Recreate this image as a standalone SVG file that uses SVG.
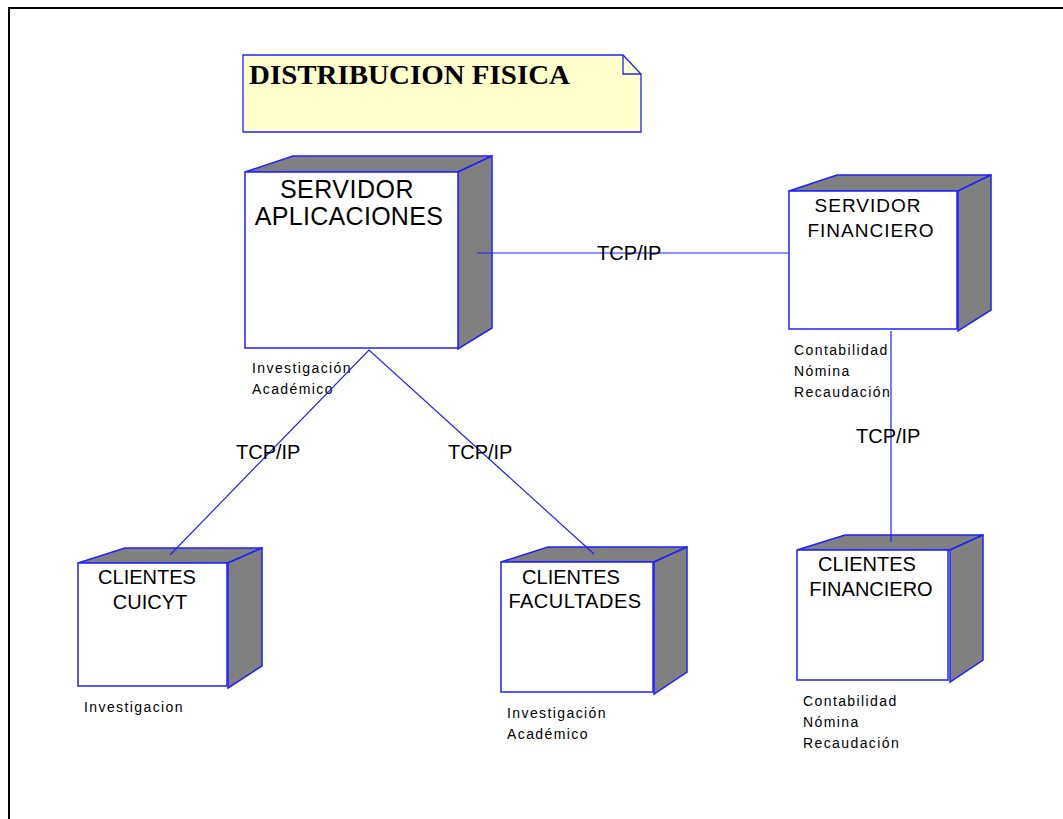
<svg xmlns="http://www.w3.org/2000/svg" width="1063" height="819" viewBox="0 0 1063 819">
<style>
.front{fill:#ffffff;stroke:#2020ff;stroke-width:1.5}
.side{fill:#808080;stroke:#2020ff;stroke-width:1.5;stroke-linejoin:miter}
.conn{stroke:#2020ff;stroke-width:1.2;fill:none}
.name{font-family:"Liberation Sans",Arial,sans-serif;fill:#000;text-anchor:middle}
.lbl{font-family:"Liberation Sans",Arial,sans-serif;font-size:14px;letter-spacing:1.4px;fill:#000}
.tcp{font-family:"Liberation Sans",Arial,sans-serif;font-size:20px;fill:#000}
</style>
<rect width="1063" height="819" fill="#ffffff"/>
<path d="M9,819 V8 H1063" fill="none" stroke="#000" stroke-width="2"/>

<g id="note">
<path d="M243,55 H623 L641,74 V132 H243 Z" fill="#ffffcc" stroke="#2020ff" stroke-width="1.3"/>
<path d="M623,55 V74 H641" fill="none" stroke="#2020ff" stroke-width="1.3"/>
<text x="249" y="84" font-family="'Liberation Serif','Times New Roman',serif" font-weight="bold" font-size="27" textLength="321" lengthAdjust="spacingAndGlyphs">DISTRIBUCION FISICA</text>
</g>

<g id="servidor-aplicaciones">
<path class="side" d="M245,172 L293,156 H492 L458,172 Z"/>
<path class="side" d="M458,172 L492,156 V328 L458,349 Z"/>
<rect class="front" x="245" y="172" width="213" height="176"/>
<text class="name" font-size="25" x="347" y="198" letter-spacing="0.5">SERVIDOR</text>
<text class="name" font-size="25" x="349" y="225" letter-spacing="0.3">APLICACIONES</text>
<text class="lbl" x="252" y="373">Investigación</text>
<text class="lbl" x="252" y="394">Académico</text>
</g>

<g id="servidor-financiero">
<path class="side" d="M789,191 L837,175 H991 L958,191 Z"/>
<path class="side" d="M958,191 L991,175 V310 L958,331 Z"/>
<rect class="front" x="789" y="191" width="168" height="138"/>
<text class="name" font-size="19" x="868" y="212" letter-spacing="1">SERVIDOR</text>
<text class="name" font-size="19" x="871" y="237" letter-spacing="1">FINANCIERO</text>
<text class="lbl" x="794" y="355">Contabilidad</text>
<text class="lbl" x="794" y="376">Nómina</text>
<text class="lbl" x="794" y="397">Recaudación</text>
</g>

<g id="clientes-cuicyt">
<path class="side" d="M78,563 L125,548 H262 L228,563 Z"/>
<path class="side" d="M228,563 L262,548 V666 L228,688 Z"/>
<rect class="front" x="78" y="563" width="149" height="123"/>
<text class="name" font-size="20" x="147" y="584">CLIENTES</text>
<text class="name" font-size="20" x="150" y="609">CUICYT</text>
<text class="lbl" x="84" y="712">Investigacion</text>
</g>

<g id="clientes-facultades">
<path class="side" d="M501,562 L548,547 H687 L654,562 Z"/>
<path class="side" d="M654,562 L687,547 V672 L654,694 Z"/>
<rect class="front" x="501" y="562" width="152" height="130"/>
<text class="name" font-size="20" x="571" y="584">CLIENTES</text>
<text class="name" font-size="20" x="575" y="608" letter-spacing="0.5">FACULTADES</text>
<text class="lbl" x="507" y="718">Investigación</text>
<text class="lbl" x="507" y="739">Académico</text>
</g>

<g id="clientes-financiero">
<path class="side" d="M797,550 L845,535 H983 L950,550 Z"/>
<path class="side" d="M950,550 L983,535 V660 L950,682 Z"/>
<rect class="front" x="797" y="550" width="151" height="130"/>
<text class="name" font-size="20" x="867" y="571">CLIENTES</text>
<text class="name" font-size="20" x="871" y="596">FINANCIERO</text>
<text class="lbl" x="803" y="706">Contabilidad</text>
<text class="lbl" x="803" y="727">Nómina</text>
<text class="lbl" x="803" y="748">Recaudación</text>
</g>

<g id="connectors">
<line class="conn" x1="477" y1="253" x2="789" y2="253"/>
<polyline class="conn" points="170,555 369,350 594,554"/>
<line class="conn" x1="891" y1="331" x2="891" y2="542"/>
<text class="tcp" x="597" y="260">TCP/IP</text>
<text class="tcp" x="236" y="459">TCP/IP</text>
<text class="tcp" x="448" y="459">TCP/IP</text>
<text class="tcp" x="856" y="443">TCP/IP</text>
</g>
</svg>
